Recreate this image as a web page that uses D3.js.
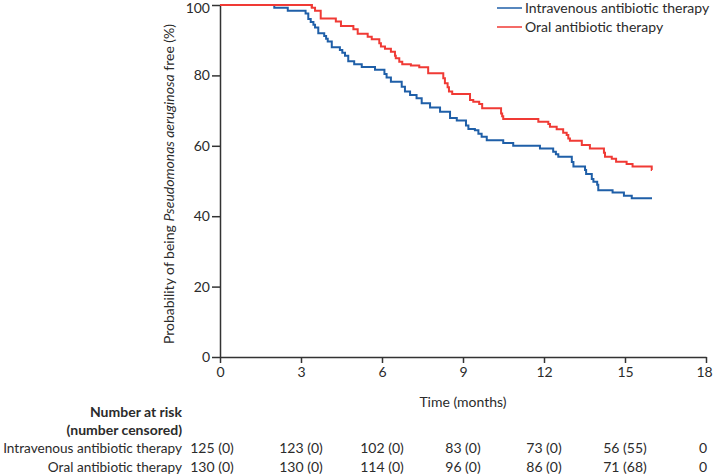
<!DOCTYPE html>
<html>
<head>
<meta charset="utf-8">
<script src="https://cdn.jsdelivr.net/npm/d3@7"></script>
<style>
  html, body { margin: 0; padding: 0; background: #fff; }
  svg text { font-family: Lato, "Open Sans", sans-serif; fill: #2b2b2b; }
</style>
</head>
<body>
<svg id="chart" width="713" height="476"></svg>
<script>
// ---- Data ----
const seriesNames = ["Intravenous antibiotic therapy", "Oral antibiotic therapy"];
const xTicks = [0, 3, 6, 9, 12, 15, 18];
const yTicks = [0, 20, 40, 60, 80, 100];
const followUpEnd = 16;

// Kaplan–Meier step points: [time (months), % free after the event]
const ivSteps = [
  [0, 100], [2.01, 99.2], [2.51, 98.4], [3.17, 97.6], [3.27, 96.0], [3.36, 95.2],
  [3.46, 94.4], [3.52, 93.6], [3.64, 92.0], [3.86, 91.2], [3.93, 90.4], [3.99, 89.6],
  [4.14, 88.0], [4.44, 87.2], [4.53, 86.4], [4.63, 85.6], [4.75, 84.0], [4.97, 83.2],
  [5.25, 82.4], [5.74, 81.6], [6.09, 80.4], [6.17, 79.4], [6.33, 78.2], [6.73, 76.8],
  [6.85, 75.4], [7.04, 74.4], [7.28, 73.5], [7.47, 72.1], [7.78, 70.9], [8.15, 69.7],
  [8.52, 67.9], [8.77, 67.2], [9.11, 65.8], [9.20, 64.8], [9.44, 64.4], [9.57, 63.4],
  [9.69, 62.6], [9.88, 61.6], [10.49, 60.8], [10.86, 60.0], [11.85, 59.2], [12.34, 58.3],
  [12.44, 57.6], [12.53, 56.9], [13.03, 55.4], [13.09, 54.1], [13.52, 53.1], [13.56, 52.0],
  [13.77, 50.6], [13.83, 49.8], [13.97, 48.9], [14.01, 47.4], [14.54, 46.7], [14.96, 45.8],
  [15.25, 45.1], [16.0, 45.1]
];
const oralSteps = [
  [0, 100], [3.40, 99.2], [3.52, 98.4], [3.73, 96.2], [4.29, 95.3], [4.48, 94.0],
  [4.94, 93.1], [5.10, 91.8], [5.47, 91.0], [5.62, 90.3], [5.90, 89.1], [5.96, 88.2],
  [6.11, 87.6], [6.33, 86.7], [6.48, 85.6], [6.51, 84.9], [6.64, 83.9], [6.75, 83.2],
  [7.07, 82.8], [7.38, 82.3], [7.71, 80.6], [8.27, 79.2], [8.33, 77.8], [8.43, 76.6],
  [8.48, 75.4], [8.60, 74.7], [9.26, 73.0], [9.38, 72.5], [9.60, 71.9], [9.71, 70.7],
  [10.41, 69.2], [10.45, 68.4], [10.49, 67.6], [11.79, 66.8], [12.16, 66.2], [12.22, 65.4],
  [12.47, 64.7], [12.71, 63.7], [12.84, 63.1], [12.90, 62.1], [12.96, 61.4], [13.40, 60.2],
  [13.70, 59.2], [14.22, 58.0], [14.26, 56.9], [14.51, 56.3], [14.67, 55.5], [15.06, 54.8],
  [15.28, 54.1], [15.99, 53.1], [16.0, 53.1]
];

// Number at risk (number censored) at each x tick
const riskIV = ["125 (0)", "123 (0)", "102 (0)", "83 (0)", "73 (0)", "56 (55)", "0"];
const riskOral = ["130 (0)", "130 (0)", "114 (0)", "96 (0)", "86 (0)", "71 (68)", "0"];

const colors = ["#1f5fa8", "#f03a35"];

// ---- Layout ----
const svg = d3.select("#chart");
const margin = { left: 220, right: 7, top: 5, bottom: 119 };
const W = 713, H = 476;
const x = d3.scaleLinear().domain([0, 18]).range([margin.left, W - margin.right]);
const y = d3.scaleLinear().domain([0, 100]).range([H - margin.bottom, margin.top]);
const axisColor = "#333";

// Axes
const gx = svg.append("g")
  .attr("transform", `translate(0,${y(0)})`)
  .call(d3.axisBottom(x).tickValues(xTicks).tickSize(6).tickPadding(4).tickSizeOuter(0));
const gy = svg.append("g")
  .attr("transform", `translate(${x(0)},0)`)
  .call(d3.axisLeft(y).tickValues(yTicks).tickSize(8).tickPadding(2).tickSizeOuter(0));
[gx, gy].forEach(g => {
  g.selectAll("path.domain").attr("stroke", axisColor).attr("stroke-width", 1.5);
  g.selectAll(".tick line").attr("stroke", axisColor).attr("stroke-width", 1.5);
  g.selectAll(".tick text").style("font-size", "14px").attr("fill", "#2b2b2b")
    .style("font-family", "Lato, 'Open Sans', sans-serif");
});
// keep edge tick labels inside the picture
gx.selectAll(".tick text").filter(d => d === 18).attr("dx", "-2");
gy.selectAll(".tick text").filter(d => d === 100).attr("dy", "0.55em");

// Axis titles
svg.append("text")
  .attr("x", x(9)).attr("y", 407)
  .attr("text-anchor", "middle").style("font-size", "14px")
  .text("Time (months)");

const yl = svg.append("text")
  .attr("transform", `translate(174,${(y(0) + y(100)) / 2 + 3}) rotate(-90)`)
  .attr("text-anchor", "middle").style("font-size", "14px");
yl.append("tspan").text("Probability of being ");
yl.append("tspan").style("font-style", "italic").text("Pseudomonas aeruginosa");
yl.append("tspan").text(" free (%)");

// Curves
const line = d3.line().x(d => x(d[0])).y(d => y(d[1])).curve(d3.curveStepAfter);
[ivSteps, oralSteps].forEach((s, i) => {
  svg.append("path")
    .datum(s)
    .attr("fill", "none")
    .attr("stroke", colors[i])
    .attr("stroke-width", 2)
    .attr("d", line);
});
// Redraw the top (100%) segment for oral so it shows above IV
svg.append("path").datum(oralSteps.slice(0, 2))
  .attr("fill", "none").attr("stroke", colors[1]).attr("stroke-width", 2).attr("d", line);

// Legend
const legend = svg.append("g").attr("transform", "translate(497,8)");
seriesNames.forEach((n, i) => {
  const g = legend.append("g").attr("transform", `translate(0,${i * 19})`);
  g.append("line").attr("x1", 0).attr("x2", 25).attr("y1", 0).attr("y2", 0)
    .attr("stroke", colors[i]).attr("stroke-width", 1.5);
  g.append("text").attr("x", 28).attr("y", 0).attr("dy", "0.35em")
    .style("font-size", "14px").text(n);
});

// Risk table
const labelX = 182;
svg.append("text").attr("x", labelX).attr("y", 412).attr("dy", "0.35em")
  .attr("text-anchor", "end").style("font-size", "14px").style("font-weight", "bold")
  .text("Number at risk");
svg.append("text").attr("x", labelX).attr("y", 430).attr("dy", "0.35em")
  .attr("text-anchor", "end").style("font-size", "14px").style("font-weight", "bold")
  .text("(number censored)");
[riskIV, riskOral].forEach((row, r) => {
  const yy = 448 + r * 19;
  svg.append("text").attr("x", labelX).attr("y", yy).attr("dy", "0.35em")
    .attr("text-anchor", "end").style("font-size", "13.6px").text(seriesNames[r]);
  svg.selectAll(null).data(row).enter().append("text")
    .attr("x", (d, i) => x(xTicks[i]) + (i === 0 ? -8 : (i === xTicks.length - 1 ? -3 : 0)))
    .attr("y", yy).attr("dy", "0.35em")
    .attr("text-anchor", "middle").style("font-size", "14px")
    .text(d => d);
});
</script>
</body>
</html>
